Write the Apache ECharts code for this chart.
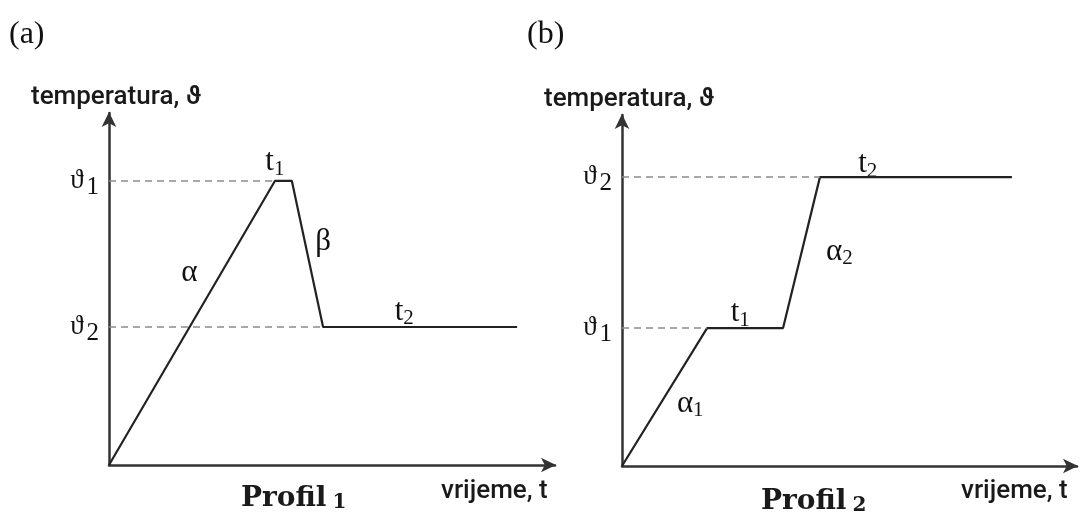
<!DOCTYPE html>
<html>
<head>
<meta charset="utf-8">
<script src="https://cdn.jsdelivr.net/npm/echarts@6/dist/echarts.min.js"></script>
<style>
  html, body { margin: 0; padding: 0; background: #fff; }
  #chart { width: 1085px; height: 517px; }
</style>
</head>
<body>
<div id="chart"></div>
<script>
// profil 1 (a): time vs temperature (arbitrary units, axis 0..10)
const timeA = [0, 3.72, 4.1, 4.8, 9.15];
const tempA = [0, 8.07, 8.07, 3.92, 3.92];
// profil 2 (b)
const timeB = [0, 1.87, 3.54, 4.35, 8.57];
const tempB = [0, 3.93, 3.93, 8.23, 8.23];

// dashed level lines: [subscript, level, time where it meets the profile]
const levelsA = [['1', 8.07, 3.72], ['2', 3.92, 4.8]];
const levelsB = [['2', 8.23, 4.35], ['1', 3.93, 1.87]];

// segment annotations: [symbol, subscript, time, temp]
const notesA = [['t', '1', 3.72, 8.6], ['β', '', 4.8, 6.35], ['α', '', 1.8, 5.45], ['t', '2', 6.62, 4.35]];
const notesB = [['t', '2', 5.4, 8.6], ['α', '2', 4.78, 6.1], ['t', '1', 2.6, 4.35], ['α', '1', 1.5, 1.78]];

const serif = '"Liberation Serif", "DejaVu Serif", serif';
const sans = 'Roboto, "Liberation Sans", sans-serif';
const ink = '#111';

const noteRich = {
  t: { fontFamily: serif, fontSize: 31, color: ink },
  s: { fontFamily: serif, fontSize: 21, color: ink, padding: [14, 0, 0, 0] }
};
const levelRich = {
  t: { fontFamily: serif, fontSize: 27, color: ink },
  s: { fontFamily: serif, fontSize: 25, color: ink, padding: [13, 0, 0, 3] }
};

function pairs(xs, ys) {
  return xs.map((x, i) => [x, ys[i]]);
}

function axisPair(idx) {
  const lineStyle = { color: '#333', width: 2.5 };
  const arrowLine = { onZero: false, lineStyle, symbol: ['none', 'arrow'], symbolSize: [11, 15], symbolOffset: [0, 1] };
  const common = {
    gridIndex: idx, type: 'value', min: 0, max: 10,
    axisTick: { show: false }, axisLabel: { show: false }, splitLine: { show: false },
    axisLine: arrowLine
  };
  return {
    x: Object.assign({}, common),
    y: Object.assign({}, common, {
      name: 'temperatura, ϑ', nameLocation: 'end', nameGap: 3,
      nameTextStyle: { fontFamily: sans, fontSize: 26, fontWeight: 500, color: '#1a1a1a', align: 'center', padding: [0, 0, 0, 14] }
    })
  };
}

function levelMark(levels) {
  return {
    silent: true, symbol: 'none',
    lineStyle: { type: [7, 5], color: '#8a8a8a', width: 1.6 },
    label: {
      show: true, position: 'start', distance: 10, color: ink,
      rich: levelRich,
      formatter: p => '{t|ϑ}{s|' + p.data.name + '}'
    },
    data: levels.map(l => [{ coord: [0, l[1]], name: l[0] }, { coord: [l[2], l[1]] }])
  };
}

function profileSeries(idx, xs, ys, levels) {
  return {
    type: 'line', xAxisIndex: idx, yAxisIndex: idx,
    data: pairs(xs, ys), symbol: 'none', silent: true,
    lineStyle: { color: '#222', width: 2.2 },
    z: 3,
    markLine: levelMark(levels)
  };
}

function noteSeries(idx, notes) {
  return {
    type: 'scatter', xAxisIndex: idx, yAxisIndex: idx, symbolSize: 0, silent: true,
    itemStyle: { opacity: 1 },
    data: notes.map(n => ({ value: [n[2], n[3]], sym: n[0], sub: n[1] })),
    label: {
      show: true, position: 'inside', color: ink, opacity: 1, rich: noteRich,
      formatter: p => '{t|' + p.data.sym + '}' + (p.data.sub ? '{s|' + p.data.sub + '}' : '')
    }
  };
}

function profilTitle(n) {
  return {
    text: '{p|Profil}{n|' + n + '}', fill: '#1a1a1a',
    rich: {
      p: { font: 'bold 28px "DejaVu Serif", serif' },
      n: { font: 'bold 20px "DejaVu Serif", serif', padding: [7, 0, 0, 6] }
    }
  };
}

const axA = axisPair(0);
const axB = axisPair(1);

const chart = echarts.init(document.getElementById('chart'));
chart.setOption({
  backgroundColor: '#fff',
  animation: false,
  grid: [
    { left: 109, top: 113, right: 530, bottom: 52 },
    { left: 622, top: 115, right: 8, bottom: 51 }
  ],
  xAxis: [axA.x, axB.x],
  yAxis: [axA.y, axB.y],
  graphic: [
    { type: 'text', left: 9, top: 19, style: { text: '(a)', font: '32px ' + serif, fill: ink } },
    { type: 'text', left: 527, top: 19, style: { text: '(b)', font: '32px ' + serif, fill: ink } },
    { type: 'text', left: 441, top: 478, style: { text: 'vrijeme, t', font: '500 26px ' + sans, fill: '#1a1a1a' } },
    { type: 'text', left: 961, top: 478, style: { text: 'vrijeme, t', font: '500 26px ' + sans, fill: '#1a1a1a' } },
    { type: 'text', left: 241, top: 485, style: profilTitle('1') },
    { type: 'text', left: 761, top: 488, style: profilTitle('2') }
  ],
  series: [
    profileSeries(0, timeA, tempA, levelsA),
    profileSeries(1, timeB, tempB, levelsB),
    noteSeries(0, notesA),
    noteSeries(1, notesB)
  ]
});
</script>
</body>
</html>
